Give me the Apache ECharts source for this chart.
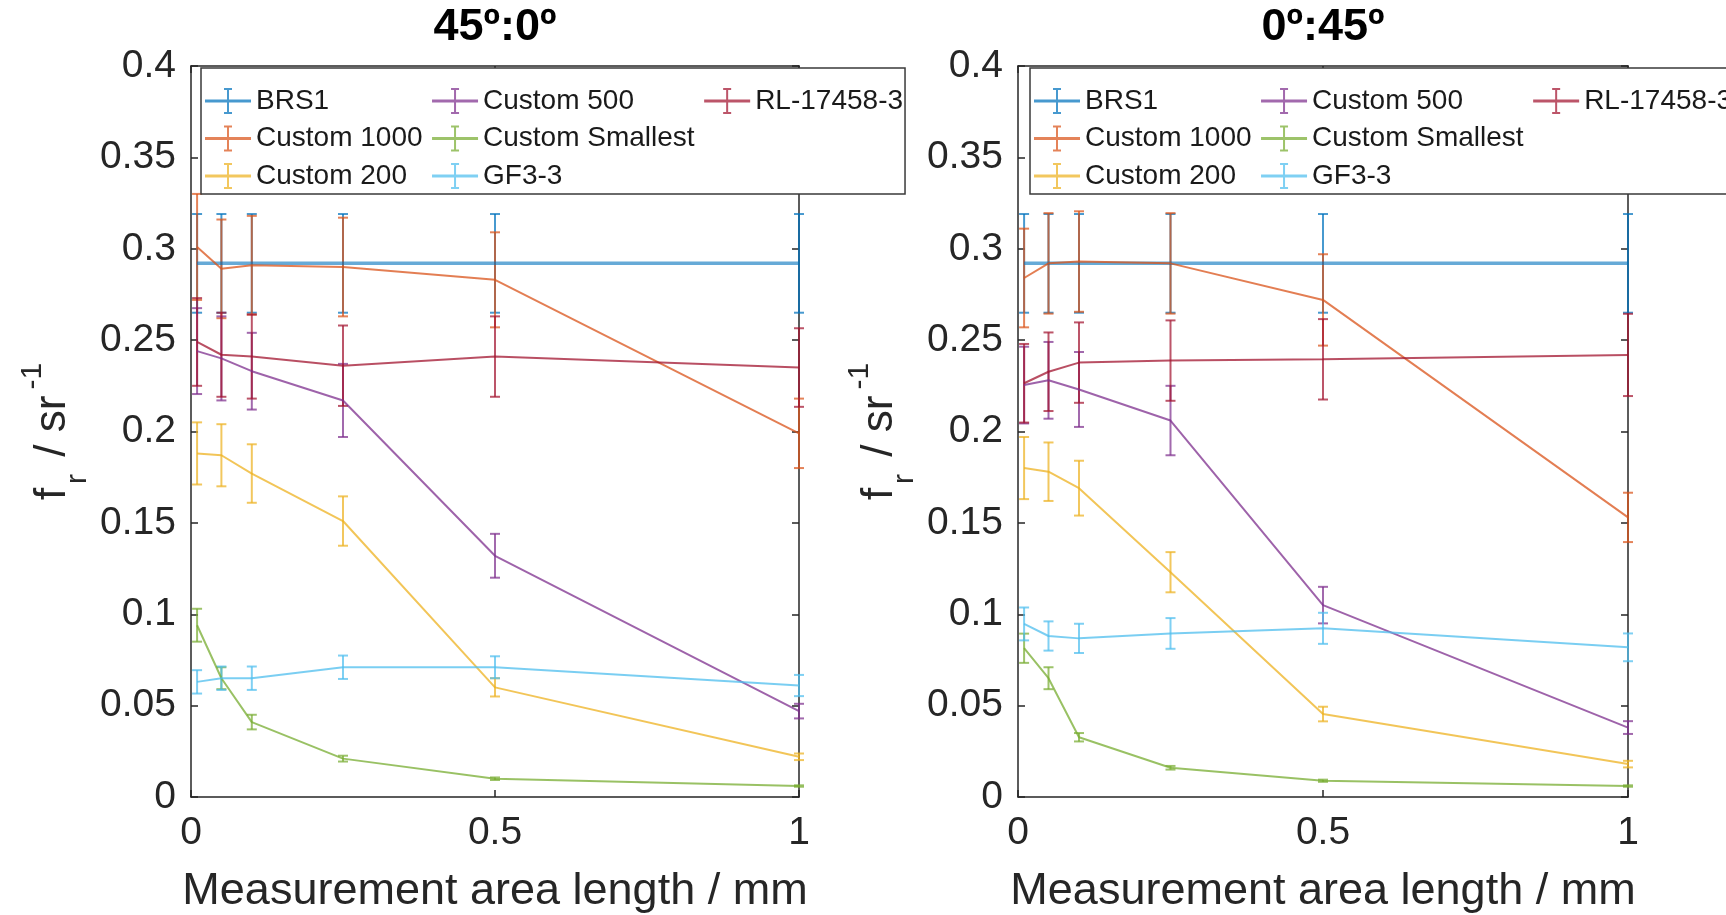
<!DOCTYPE html>
<html>
<head>
<meta charset="utf-8">
<script src="https://cdn.jsdelivr.net/npm/echarts@6/dist/echarts.min.js"></script>
<style>
  html, body { margin: 0; padding: 0; background: #fff; }
  #chart { width: 1726px; height: 915px; }
</style>
</head>
<body>
<div id="chart"></div>
<script>
// Measurement area lengths (mm) at which each sample was measured
const sizes = [0.01, 0.05, 0.1, 0.25, 0.5, 1];

const seriesNames = ['BRS1', 'Custom 1000', 'Custom 200', 'Custom 500', 'Custom Smallest', 'GF3-3', 'RL-17458-3'];
const seriesColors = ['#0072BD', '#D95319', '#EDB120', '#7E2F8E', '#77AC30', '#4DBEEE', '#A2142F'];
const panelTitles = ['45º:0º', '0º:45º'];

// Geometry 45º:0º — mean f_r and its uncertainty
const brs1_a = [0.292, 0.292, 0.292, 0.292, 0.292, 0.292];
const brs1_a_err = [0.027, 0.027, 0.027, 0.027, 0.027, 0.027];
const c1000_a = [0.301, 0.289, 0.291, 0.290, 0.283, 0.199];
const c1000_a_err = [0.029, 0.027, 0.027, 0.027, 0.026, 0.019];
const c200_a = [0.188, 0.187, 0.177, 0.151, 0.060, 0.022];
const c200_a_err = [0.017, 0.017, 0.016, 0.0135, 0.005, 0.0018];
const c500_a = [0.244, 0.240, 0.233, 0.217, 0.132, 0.047];
const c500_a_err = [0.0235, 0.023, 0.021, 0.020, 0.012, 0.004];
const csmall_a = [0.094, 0.065, 0.041, 0.021, 0.010, 0.006];
const csmall_a_err = [0.009, 0.006, 0.004, 0.0016, 0.0007, 0.0004];
const gf33_a = [0.063, 0.065, 0.065, 0.071, 0.071, 0.061];
const gf33_a_err = [0.0064, 0.0064, 0.0064, 0.0064, 0.006, 0.0058];
const rl_a = [0.249, 0.242, 0.241, 0.236, 0.241, 0.235];
const rl_a_err = [0.024, 0.023, 0.023, 0.022, 0.022, 0.0215];

// Geometry 0º:45º
const brs1_b = [0.292, 0.292, 0.292, 0.292, 0.292, 0.292];
const brs1_b_err = [0.027, 0.027, 0.027, 0.027, 0.027, 0.027];
const c1000_b = [0.284, 0.292, 0.293, 0.292, 0.272, 0.153];
const c1000_b_err = [0.027, 0.0275, 0.0275, 0.0275, 0.025, 0.0135];
const c200_b = [0.180, 0.178, 0.169, 0.123, 0.0454, 0.018];
const c200_b_err = [0.017, 0.016, 0.015, 0.011, 0.004, 0.0018];
const c500_b = [0.2254, 0.228, 0.223, 0.206, 0.105, 0.038];
const c500_b_err = [0.021, 0.021, 0.0205, 0.019, 0.010, 0.0035];
const csmall_b = [0.0814, 0.065, 0.0327, 0.016, 0.0089, 0.006];
const csmall_b_err = [0.008, 0.006, 0.0023, 0.001, 0.0006, 0.0004];
const gf33_b = [0.0947, 0.0881, 0.0868, 0.0895, 0.0923, 0.0819];
const gf33_b_err = [0.009, 0.008, 0.008, 0.0084, 0.0085, 0.0076];
const rl_b = [0.2264, 0.2327, 0.2377, 0.2388, 0.2395, 0.2419];
const rl_b_err = [0.0215, 0.0215, 0.022, 0.022, 0.022, 0.0225];

const panelValues = [
  [brs1_a, c1000_a, c200_a, c500_a, csmall_a, gf33_a, rl_a],
  [brs1_b, c1000_b, c200_b, c500_b, csmall_b, gf33_b, rl_b]
];
const panelErrors = [
  [brs1_a_err, c1000_a_err, c200_a_err, c500_a_err, csmall_a_err, gf33_a_err, rl_a_err],
  [brs1_b_err, c1000_b_err, c200_b_err, c500_b_err, csmall_b_err, gf33_b_err, rl_b_err]
];

const FONT = '"Liberation Sans", Arial, Helvetica, sans-serif';
const AXIS_COLOR = '#262626';

// panel placement
const grids = [
  { left: 191, top: 66, width: 608, height: 731 },
  { left: 1018, top: 66, width: 610, height: 731 }
];
const legendLeft = [201, 1030];

// vertical error bar with caps
function renderErrorBar(params, api) {
  const x = api.value(0), y = api.value(1), e = api.value(2);
  const hi = api.coord([x, y + e]);
  const lo = api.coord([x, y - e]);
  const half = 5;
  const style = { stroke: api.visual('color'), lineWidth: 2, opacity: 0.72 };
  return {
    type: 'group',
    children: [
      { type: 'line', shape: { x1: hi[0], y1: hi[1], x2: lo[0], y2: lo[1] }, style: style },
      { type: 'line', shape: { x1: hi[0] - half, y1: hi[1], x2: hi[0] + half, y2: hi[1] }, style: style },
      { type: 'line', shape: { x1: lo[0] - half, y1: lo[1], x2: lo[0] + half, y2: lo[1] }, style: style }
    ]
  };
}

const legendIcon = 'path://M0,11.5h46v3h-46z M22,1h2v24h-2z M19,0h8v2h-8z M19,24h8v2h-8z';

const xAxes = [], yAxes = [], series = [], titles = [], legends = [];

grids.forEach(function (g, p) {
  titles.push({
    text: panelTitles[p],
    left: g.left + g.width / 2,
    top: 5,
    textAlign: 'center',
    textVerticalAlign: 'top',
    padding: 0,
    textStyle: { fontFamily: FONT, fontSize: 45, fontWeight: 'bold', color: '#000', lineHeight: 45 }
  });

  xAxes.push({
    gridIndex: p, type: 'value', position: 'bottom', min: 0, max: 1, interval: 0.5,
    name: 'Measurement area length / mm', nameLocation: 'middle', nameGap: 95,
    nameMoveOverlap: false,
    nameTextStyle: { fontFamily: FONT, fontSize: 45, color: AXIS_COLOR, align: 'center', verticalAlign: 'middle' },
    axisLine: { show: true, onZero: false, lineStyle: { color: AXIS_COLOR, width: 1.5 } },
    axisTick: { show: true, inside: true, length: 7, lineStyle: { color: AXIS_COLOR, width: 1.5 } },
    axisLabel: { show: true, margin: 17, fontFamily: FONT, fontSize: 39, color: AXIS_COLOR, showMinLabel: true, showMaxLabel: true },
    splitLine: { show: false }
  });
  xAxes.push({
    gridIndex: p, type: 'value', position: 'top', min: 0, max: 1, interval: 0.5,
    axisLine: { show: true, onZero: false, lineStyle: { color: AXIS_COLOR, width: 1.5 } },
    axisTick: { show: true, inside: true, length: 7, lineStyle: { color: AXIS_COLOR, width: 1.5 } },
    axisLabel: { show: false }, splitLine: { show: false }
  });

  yAxes.push({
    gridIndex: p, type: 'value', position: 'left', min: 0, max: 0.4, interval: 0.05,
    name: '{m|f}{sub|r}{m| / sr}{sup|-1}', nameLocation: 'middle', nameRotate: 90, nameGap: 136,
    nameMoveOverlap: false,
    nameTextStyle: {
      fontFamily: FONT, color: AXIS_COLOR, align: 'center', verticalAlign: 'middle',
      rich: {
        m: { fontFamily: FONT, fontSize: 44, height: 44, padding: [14, 0, 18, 0], color: AXIS_COLOR },
        sub: { fontFamily: FONT, fontSize: 30, height: 30, padding: [45.5, 5, 0.5, 4], color: AXIS_COLOR },
        sup: { fontFamily: FONT, fontSize: 30, height: 30, padding: [0.5, 0, 45.5, 6], color: AXIS_COLOR }
      }
    },
    axisLine: { show: true, onZero: false, lineStyle: { color: AXIS_COLOR, width: 1.5 } },
    axisTick: { show: true, inside: true, length: 7, lineStyle: { color: AXIS_COLOR, width: 1.5 } },
    axisLabel: { show: true, margin: 15, fontFamily: FONT, fontSize: 39, color: AXIS_COLOR, showMinLabel: true, showMaxLabel: true },
    splitLine: { show: false }
  });
  yAxes.push({
    gridIndex: p, type: 'value', position: 'right', min: 0, max: 0.4, interval: 0.05,
    axisLine: { show: true, onZero: false, lineStyle: { color: AXIS_COLOR, width: 1.5 } },
    axisTick: { show: true, inside: true, length: 7, lineStyle: { color: AXIS_COLOR, width: 1.5 } },
    axisLabel: { show: false }, splitLine: { show: false }
  });

  seriesNames.forEach(function (name, i) {
    const vals = panelValues[p][i];
    const errs = panelErrors[p][i];
    series.push({
      type: 'line', name: name, xAxisIndex: p * 2, yAxisIndex: p * 2,
      data: sizes.map(function (x, k) { return [x, vals[k]]; }),
      symbol: 'none', silent: true,
      color: seriesColors[i],
      lineStyle: { color: seriesColors[i], width: i === 0 ? 3.5 : 2, opacity: i === 0 ? 0.6 : 0.75 },
      itemStyle: { color: seriesColors[i] }
    });
    series.push({
      type: 'custom', name: name, xAxisIndex: p * 2, yAxisIndex: p * 2,
      data: sizes.map(function (x, k) { return [x, vals[k], errs[k]]; }),
      encode: { x: 0, y: 1 }, silent: true,
      renderItem: renderErrorBar,
      itemStyle: { color: seriesColors[i] }
    });
  });

  legends.push({
    data: seriesNames,
    orient: 'vertical', left: legendLeft[p], top: 68, height: 122,
    padding: [19, 2, 4, 4],
    itemWidth: 46, itemHeight: 26, itemGap: 9.5,
    icon: legendIcon,
    itemStyle: { borderWidth: 0, opacity: 0.72 },
    backgroundColor: '#fff', borderColor: '#3a3a3a', borderWidth: 1.5,
    selectedMode: false,
    textStyle: { fontFamily: FONT, fontSize: 28, color: '#1a1a1a', lineHeight: 26 }
  });
});

const chart = echarts.init(document.getElementById('chart'), null, { renderer: 'canvas' });
chart.setOption({
  animation: false,
  backgroundColor: '#fff',
  title: titles,
  legend: legends,
  grid: grids.map(function (g) {
    return Object.assign({ containLabel: false, outerBoundsMode: 'none' }, g);
  }),
  xAxis: xAxes,
  yAxis: yAxes,
  series: series
});
</script>
</body>
</html>
